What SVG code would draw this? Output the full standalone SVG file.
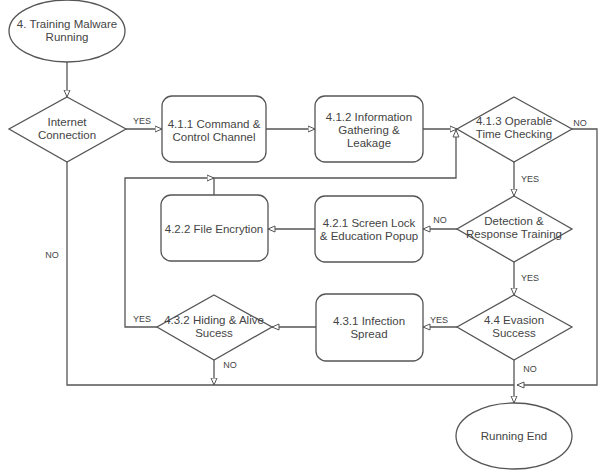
<svg xmlns="http://www.w3.org/2000/svg" width="600" height="473" viewBox="0 0 600 473">
<defs>
<marker id="arr" viewBox="0 0 8 8" markerWidth="8" markerHeight="8" refX="7.5" refY="4" orient="auto" markerUnits="userSpaceOnUse">
<path d="M0.5,1 L7.5,4 L0.5,7 Z" fill="#fff" stroke="#555" stroke-width="1"/>
</marker>
</defs>
<style>
.n{fill:#fff;stroke:#555;stroke-width:1.3}
.t{font-family:"Liberation Sans",Arial,sans-serif;font-size:11.5px;fill:#444;text-anchor:middle}
.l{font-family:"Liberation Sans",Arial,sans-serif;font-size:9px;fill:#444;text-anchor:middle}
.e{fill:none;stroke:#555;stroke-width:1.3}
</style>
<rect width="600" height="473" fill="#fff"/>
<g id="connectors">
<path class="e" d="M67,62 V97" marker-end="url(#arr)"/>
<path class="e" d="M126,129 H162" marker-end="url(#arr)"/>
<path class="e" d="M266,129 H315" marker-end="url(#arr)"/>
<path class="e" d="M423,129 H457" marker-end="url(#arr)"/>
<path class="e" d="M572,129 H597 V385 H517" marker-end="url(#arr)"/>
<path class="e" d="M514,162 V196" marker-end="url(#arr)"/>
<path class="e" d="M457,229 H423" marker-end="url(#arr)"/>
<path class="e" d="M315,229 H268" marker-end="url(#arr)"/>
<path class="e" d="M214,195 V178 H456 V130" marker-end="url(#arr)"/>
<path class="e" d="M157,327 H125 V178 H214" marker-end="url(#arr)"/>
<path class="e" d="M514,262 V295" marker-end="url(#arr)"/>
<path class="e" d="M457,327 H423" marker-end="url(#arr)"/>
<path class="e" d="M316,327 H272" marker-end="url(#arr)"/>
<path class="e" d="M214,360 V385" marker-end="url(#arr)"/>
<path class="e" d="M67,162 V385 H514"/>
<path class="e" d="M514,360 V403" marker-end="url(#arr)"/>
<text class="l" x="142" y="124">YES</text>
<text class="l" x="580" y="126">NO</text>
<text class="l" x="530" y="182">YES</text>
<text class="l" x="440" y="223">NO</text>
<text class="l" x="530" y="281">YES</text>
<text class="l" x="439" y="323">YES</text>
<text class="l" x="530" y="372">NO</text>
<text class="l" x="142" y="322">YES</text>
<text class="l" x="230" y="368">NO</text>
<text class="l" x="52" y="258">NO</text>
</g>
<g id="start">
<ellipse class="n" cx="67" cy="31" rx="58" ry="31"/>
<text class="t" x="67" y="28">4. Training Malware</text>
<text class="t" x="67" y="41">Running</text>
</g>
<g id="internet">
<polygon class="n" points="67,97 126,129 67,162 9,129"/>
<text class="t" x="67" y="126">Internet</text>
<text class="t" x="67" y="139">Connection</text>
</g>
<g id="n411">
<rect class="n" x="162" y="96" width="104" height="66" rx="10"/>
<text class="t" x="214" y="128">4.1.1 Command &amp;</text>
<text class="t" x="214" y="141">Control Channel</text>
</g>
<g id="n412">
<rect class="n" x="315" y="96" width="108" height="66" rx="10"/>
<text class="t" x="369" y="121">4.1.2 Information</text>
<text class="t" x="369" y="134">Gathering &amp;</text>
<text class="t" x="369" y="147">Leakage</text>
</g>
<g id="n413">
<polygon class="n" points="514,97 572,129 514,162 457,129"/>
<text class="t" x="514" y="125">4.1.3 Operable</text>
<text class="t" x="514" y="138">Time Checking</text>
</g>
<g id="detection">
<polygon class="n" points="514,196 572,229 514,262 457,229"/>
<text class="t" x="514" y="225">Detection &amp;</text>
<text class="t" x="514" y="238">Response Training</text>
</g>
<g id="n421">
<rect class="n" x="315" y="196" width="108" height="66" rx="10"/>
<text class="t" x="369" y="227">4.2.1 Screen Lock</text>
<text class="t" x="369" y="240">&amp; Education Popup</text>
</g>
<g id="n422">
<rect class="n" x="161" y="195" width="107" height="66" rx="10"/>
<text class="t" x="214" y="233">4.2.2 File Encrytion</text>
</g>
<g id="n432">
<polygon class="n" points="214,295 272,327 214,360 157,327"/>
<text class="t" x="214" y="324">4.3.2 Hiding &amp; Alive</text>
<text class="t" x="214" y="337">Sucess</text>
</g>
<g id="n431">
<rect class="n" x="316" y="294" width="107" height="67" rx="10"/>
<text class="t" x="369" y="325">4.3.1 Infection</text>
<text class="t" x="369" y="338">Spread</text>
</g>
<g id="n44">
<polygon class="n" points="514,295 572,327 514,360 457,327"/>
<text class="t" x="514" y="324">4.4 Evasion</text>
<text class="t" x="514" y="337">Success</text>
</g>
<g id="end">
<ellipse class="n" cx="514" cy="436" rx="58" ry="33"/>
<text class="t" x="514" y="440">Running End</text>
</g>
</svg>
